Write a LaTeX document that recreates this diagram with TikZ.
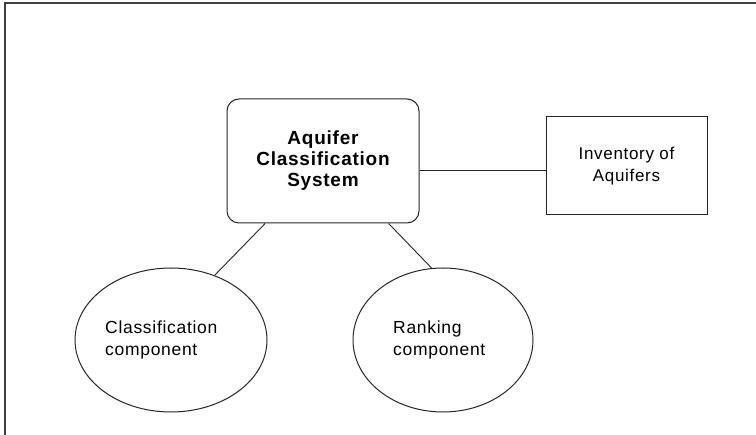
\documentclass[tikz,border=0pt]{standalone}
\usepackage{fontspec}
\setmainfont{Liberation Sans}
\newfontfamily\lblfont[LetterSpace=4]{Liberation Sans}
\usetikzlibrary{shapes.geometric,calc}
\tikzset{
  frameline/.style={draw=black!75, line width=1.6pt},
  conn/.style={draw=black!85, line width=0.9pt},
  mainbox/.style={draw=black!85, line width=1pt, rounded corners=12pt, minimum width=192pt, minimum height=124pt, align=center, font=\lblfont\fontsize{19}{21}\selectfont\bfseries},
  invbox/.style={draw=black!85, line width=1pt, minimum width=161pt, minimum height=98pt, align=center, font=\lblfont\fontsize{17}{22}\selectfont},
  comp/.style={draw=black!85, line width=1pt, ellipse, inner sep=0pt},
  comptext/.style={align=left, font=\lblfont\fontsize{17.5}{22}\selectfont, inner sep=0pt}
}
\begin{document}
\begin{tikzpicture}[x=1pt,y=-1pt]
\useasboundingbox (0,0) rectangle (756,435);
\draw[frameline] (5,436) -- (5,3) -- (756,3);
\node[mainbox] (acs) at (323,161) {Aquifer\\Classification\\System};
\node[invbox] (inv) at (626.5,166) {Inventory of\\Aquifers};
\node[comp, minimum width=192pt, minimum height=144pt] (cc) at (171,340) {};
\node[comp, minimum width=180pt, minimum height=144pt] (rc) at (443,340) {};
\node[comptext, anchor=west] (cct) at (105,340) {Classification\\component};
\node[comptext, anchor=west] (rct) at (393,340) {Ranking\\component};
\coordinate (j) at (480,170);
\draw[conn] (acs.east |- j) -- (inv.west |- j);
\draw[conn] ($(acs.south west)!0.2!(acs.south east)$) -- (cc.56);
\draw[conn] ($(acs.south west)!0.84!(acs.south east)$) -- (rc.99);
\end{tikzpicture}
\end{document}
